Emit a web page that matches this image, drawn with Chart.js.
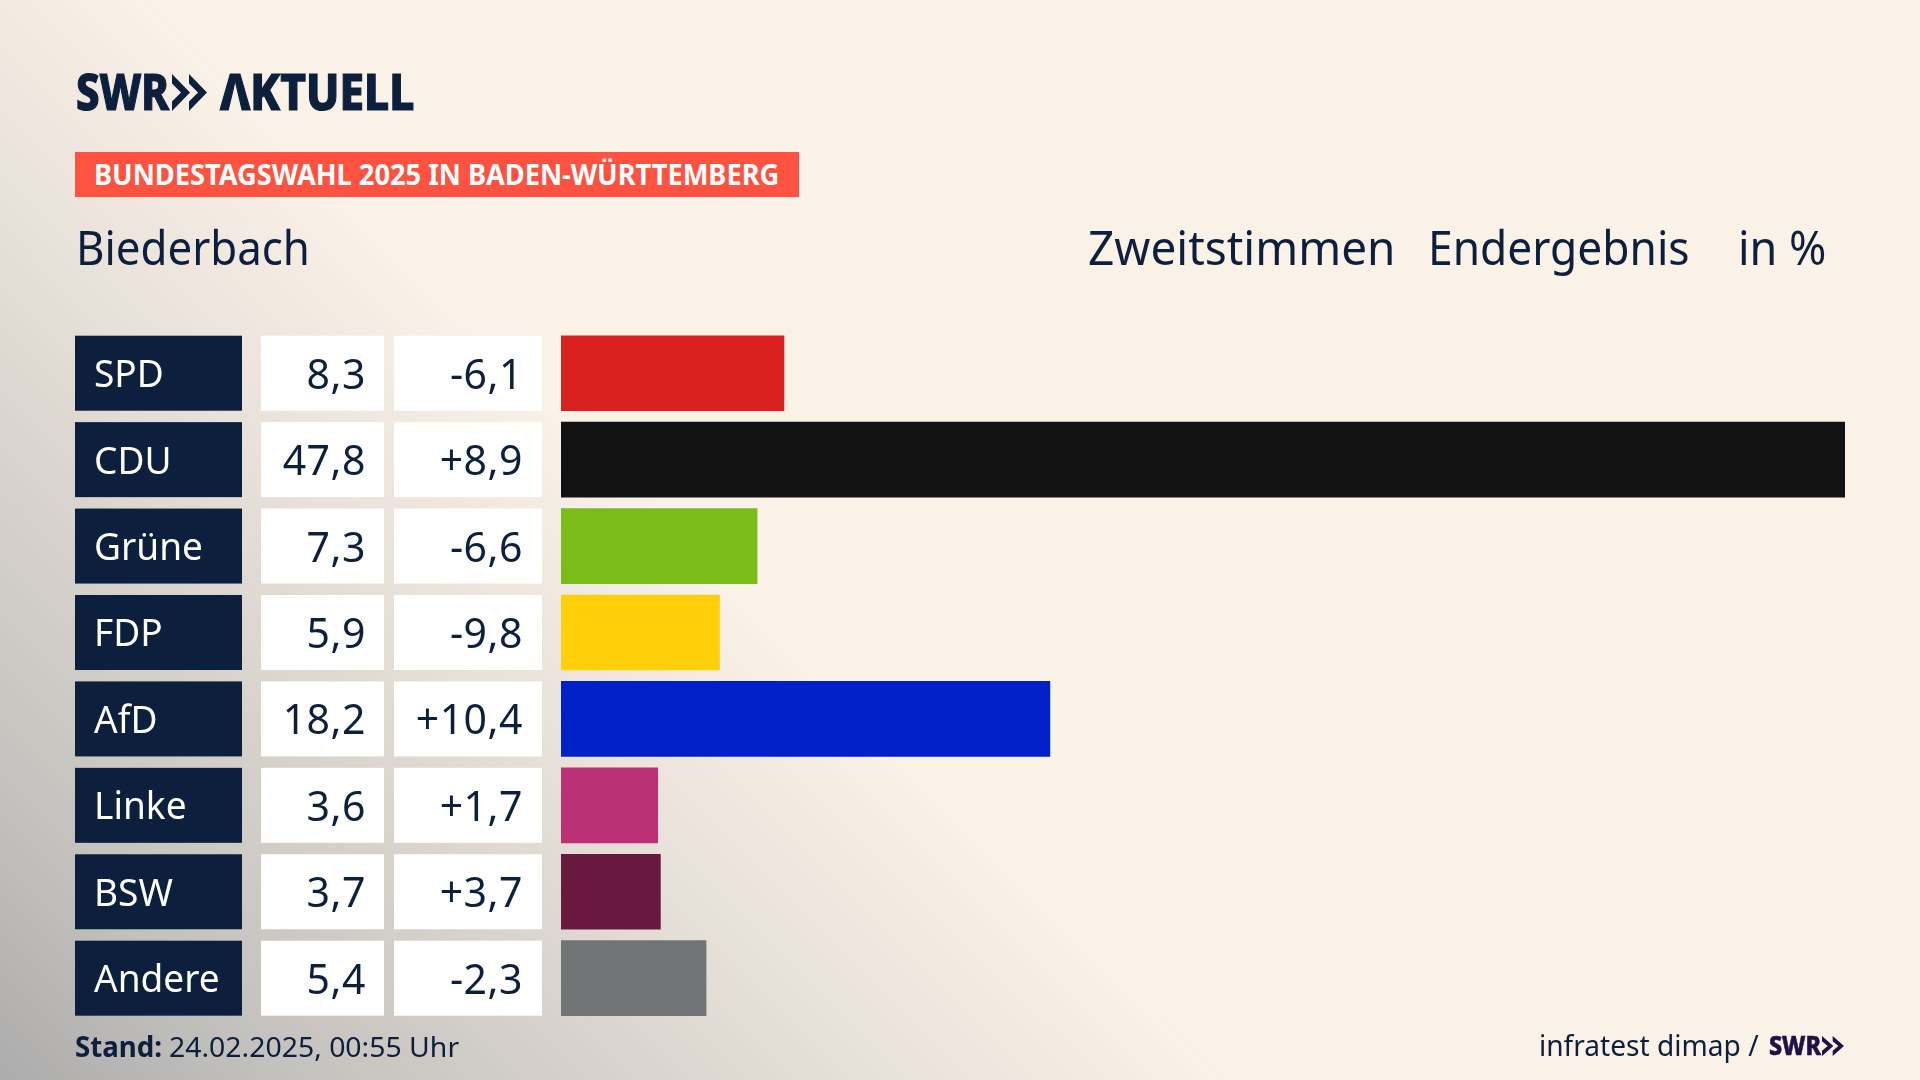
<!DOCTYPE html>
<html lang="de">
<head>
<meta charset="utf-8">
<title>Bundestagswahl 2025 in Baden-Württemberg - Biederbach</title>
<script src="https://cdn.jsdelivr.net/npm/chart.js"></script>
<style>
    html, body { margin: 0; padding: 0; }
    body {
        width: 1920px; height: 1080px; overflow: hidden; position: relative;
        background: linear-gradient(45deg, #acacac 0%, #c4c2be 10%, #d6d1cb 20%, #e9e2da 30%, #faf1e7 41%);
        font-family: "Noto Sans", sans-serif;
        color: #0c1f3d;
    }
    canvas { position: absolute; left: 0; top: 0; }
    .t { position: absolute; white-space: nowrap; transform-origin: 0 0; line-height: 1; }
    .logo { font-weight: 800; -webkit-text-stroke: 1.2px currentColor; }
    .banner { position: absolute; left: 75px; top: 152px; width: 724px; height: 45px; background: #ff5240; }
    svg { position: absolute; }
</style>
</head>
<body>
<canvas id="chart" width="1920" height="1080"></canvas>

<div class="t logo" data-x="76" data-base="110" data-w="93" style="font-size:49px">SWR</div>
<svg style="left:172px;top:74px" width="35" height="37" viewBox="0 0 35 39" preserveAspectRatio="none" fill="#0c1f3d">
    <path d="M0 0 L18 19.5 L0 39 L0 29 L9 19.5 L0 10 Z M17 0 L35 19.5 L17 39 L17 29 L26 19.5 L17 10 Z"/>
</svg>
<div class="t logo" data-x="220" data-base="110" data-w="194" style="font-size:49px">ΛKTUELL</div>

<div class="banner"></div>
<div class="t" data-x="94" data-base="185" data-w="685" style="font-size:28px;font-weight:700;color:#fff">BUNDESTAGSWAHL 2025 IN BADEN-WÜRTTEMBERG</div>

<div class="t" data-x="76" data-base="265" data-w="234" style="font-size:47px">Biederbach</div>
<div class="t" data-x="1088" data-base="265" data-w="307" style="font-size:47px">Zweitstimmen</div>
<div class="t" data-x="1428" data-base="265" data-w="262" style="font-size:47px">Endergebnis</div>
<div class="t" data-x="1738" data-base="265" data-w="88" style="font-size:47px">in %</div>

<div class="t" data-x="75" data-base="1057" data-w="87" style="font-size:28px;font-weight:700">Stand:</div>
<div class="t" data-x="169" data-base="1057" data-w="290" style="font-size:28px">24.02.2025, 00:55 Uhr</div>
<div class="t" data-x="1539" data-base="1056" data-w="220" style="font-size:29px">infratest dimap /</div>
<div class="t logo" data-x="1769" data-base="1055" data-w="52" style="font-size:26px;color:#1f1145;-webkit-text-stroke-width:.6px">SWR</div>
<svg style="left:1822px;top:1036px" width="22" height="20" viewBox="0 0 35 39" preserveAspectRatio="none" fill="#1f1145">
    <path d="M0 0 L18 19.5 L0 39 L0 29 L9 19.5 L0 10 Z M17 0 L35 19.5 L17 39 L17 29 L26 19.5 L17 10 Z"/>
</svg>

<script>
// Values
const parties = ['SPD', 'CDU', 'Grüne', 'FDP', 'AfD', 'Linke', 'BSW', 'Andere'];
const shares = [8.3, 47.8, 7.3, 5.9, 18.2, 3.6, 3.7, 5.4];
const changes = ['-6,1', '+8,9', '-6,6', '-9,8', '+10,4', '+1,7', '+3,7', '-2,3'];
const partyColors = ['#d8201f', '#121212', '#7abd1a', '#ffcf0a', '#0021c7', '#bc3076', '#69193f', '#737476'];

const NAVY = '#0c1f3d';

function formatShare(v) {
    return v.toFixed(1).replace('.', ',');
}

// Squeezes text to the reference width and sits it on its baseline
function placeText() {
    const probe = document.createElement('canvas').getContext('2d');
    document.querySelectorAll('.t').forEach(el => {
        const style = getComputedStyle(el);
        probe.font = `${style.fontWeight} ${style.fontSize} "Noto Sans"`;
        const m = probe.measureText(el.textContent);
        const scale = el.dataset.w / el.offsetWidth;
        const boxTop = (el.offsetHeight - (m.fontBoundingBoxAscent + m.fontBoundingBoxDescent)) / 2;
        el.style.left = el.dataset.x + 'px';
        el.style.top = (el.dataset.base - boxTop - m.fontBoundingBoxAscent) + 'px';
        el.style.transform = `scaleX(${scale})`;
    });
}

// Party tile and the two number tiles left of each bar
const tablePlugin = {
    id: 'resultTable',
    afterDatasetsDraw(chart) {
        const { ctx, scales: { y } } = chart;
        const h = 75;
        ctx.save();
        ctx.textBaseline = 'alphabetic';
        parties.forEach((party, i) => {
            const top = y.getPixelForValue(i) - h / 2;
            const base = top + h / 2 + 14;

            ctx.fillStyle = NAVY;
            ctx.fillRect(75, top, 167, h);
            ctx.fillStyle = '#fff';
            ctx.fillRect(261, top, 123, h);
            ctx.fillRect(394, top, 148, h);

            ctx.font = '39px "Noto Sans"';
            ctx.letterSpacing = '0px';
            ctx.fillStyle = '#fff';
            ctx.textAlign = 'left';
            ctx.fillText(party, 94, base, ctx.measureText(party).width * 0.95);

            ctx.font = '41px "Noto Sans"';
            ctx.letterSpacing = '0.5px';
            ctx.fillStyle = NAVY;
            ctx.textAlign = 'right';
            ctx.fillText(formatShare(shares[i]), 366, base + 1.5);
            ctx.fillText(changes[i], 523, base + 1.5);
        });
        ctx.restore();
    }
};

function renderChart() {
    new Chart(document.getElementById('chart'), {
        type: 'bar',
        data: {
            labels: parties,
            datasets: [{
                data: shares,
                backgroundColor: partyColors,
                barThickness: 75,
                borderWidth: 0
            }]
        },
        options: {
            indexAxis: 'y',
            responsive: false,
            animation: false,
            devicePixelRatio: 1,
            layout: { padding: { left: 561, right: 75, top: 330, bottom: 58.6 } },
            plugins: { legend: { display: false }, tooltip: { enabled: false } },
            scales: {
                x: { display: false, min: 0, max: 47.8 },
                y: { display: false }
            }
        },
        plugins: [tablePlugin]
    });
}

document.fonts.load('39px "Noto Sans"').finally(() => {
    placeText();
    renderChart();
});
</script>
</body>
</html>
